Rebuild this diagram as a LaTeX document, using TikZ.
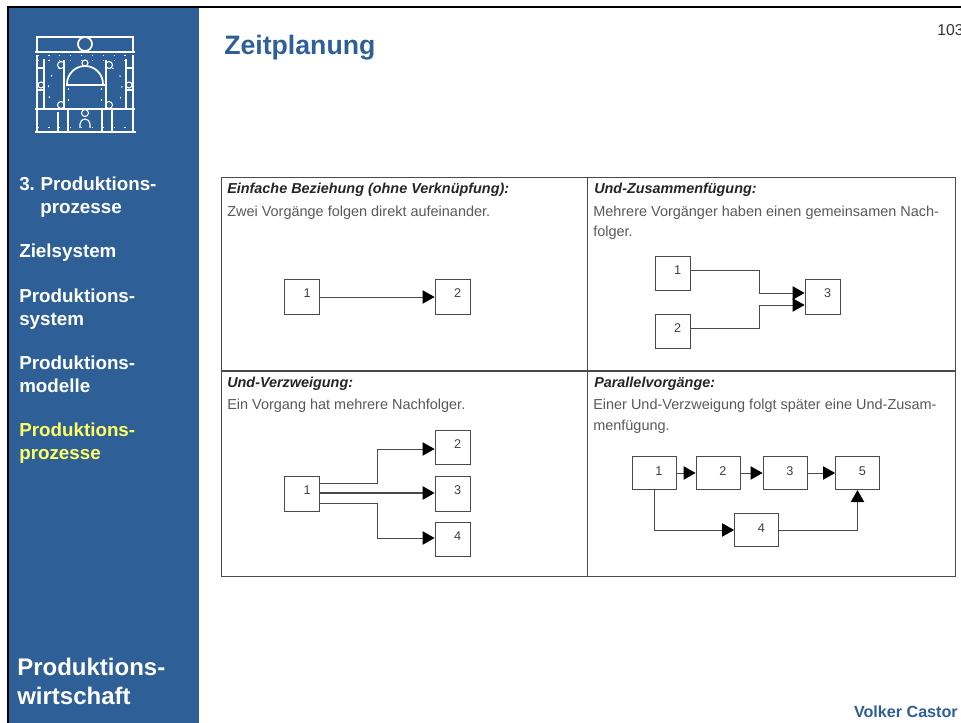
\documentclass[tikz,border=0pt]{standalone}
\usepackage{fontspec}
\setmainfont{Liberation Sans}
\usetikzlibrary{arrows.meta}
\definecolor{sideblue}{HTML}{2E6097}
\definecolor{headblue}{HTML}{2F5F97}
\definecolor{sideyellow}{HTML}{FFFF66}
\definecolor{linegray}{HTML}{4A4A4A}
\tikzset{
  x=0.75pt,y=-0.75pt,
  sidetext/.style={anchor=base west,inner sep=0pt,text=white,font=\fontsize{14.1}{16}\selectfont\bfseries},
  bigtext/.style={anchor=base west,inner sep=0pt,text=white,font=\fontsize{18}{20}\selectfont\bfseries},
  paneltitle/.style={anchor=base west,inner sep=0pt,text=black!85,font=\fontsize{10.8}{12}\selectfont\bfseries\itshape},
  paneltext/.style={anchor=base west,inner sep=0pt,text=black!65,font=\fontsize{10.85}{12}\selectfont},
  vbox/.style={draw=linegray,line width=0.6pt,fill=white,inner sep=0pt,minimum width=#1*0.75pt,minimum height=26pt},
  vbox/.default=35,
  numlab/.style={text=black!75,font=\fontsize{9.5}{11}\selectfont,inner sep=0pt,xshift=3.9pt,yshift=2.6pt},
  numlabw/.style={text=black!75,font=\fontsize{9.5}{11}\selectfont,inner sep=0pt,xshift=3.6pt,yshift=1.5pt},
  link/.style={draw=linegray,line width=0.7pt,-{Triangle[length=9pt,width=10pt,color=black]}},
  logo/.style={draw=white,line width=0.8pt},
  logothick/.style={draw=white,line width=1.3pt},
  logodot/.style={draw=white,line width=0.7pt,dash pattern=on 1.2pt off 7pt},
}
\begin{document}
\begin{tikzpicture}
\useasboundingbox (0,0) rectangle (961,723);
\fill[white] (0,0) rectangle (961,723);
% slide frame
\fill[sideblue] (9,8) rectangle (199,723);
\fill[black] (7,6) rectangle (961,8);
\fill[black] (7,6) rectangle (9,723);
% logo
\draw[logo] (37,37) rectangle (133,52);
\draw[logothick] (85,44) circle (7);
\draw[logothick] (35,52) -- (135,52);
\draw[logodot] (37,55) -- (133,55);
\draw[logo] (37,55) -- (37,109) (44,59) -- (44,109) (126,59) -- (126,109) (133,55) -- (133,109);
\draw[logodot] (37,60) -- (133,60);
\draw[logo] (37,68) -- (44,68) (37,90) -- (44,90) (126,68) -- (133,68) (126,90) -- (133,90);
\draw[logo] (41,85) circle (3) (129,85) circle (3);
\draw[logothick] (64,60) -- (64,109) (106,60) -- (106,109);
\draw[logo] (61,65) circle (3.5) (109,65) circle (3.5) (61,105) circle (3.5) (109,105) circle (3.5);
\draw[logo] (85,63) circle (3);
\draw[logothick] (67,84) arc[start angle=180,end angle=360,radius=18];
\draw[logothick] (66,85) -- (105,85);
\draw[logodot] (60,68) .. controls (50,72) and (46,85) .. (50,100);
\draw[logodot] (112,68) .. controls (122,72) and (124,85) .. (120,100);
\draw[logodot] (68,88) -- (68,109) (101,88) -- (101,109);
\draw[logothick] (35,109) -- (135,109);
\draw[logo] (37,109) -- (37,131) (58,112) -- (58,131) (68,109) -- (68,131) (102,109) -- (102,131) (112,109) -- (112,131) (133,109) -- (133,131);
\draw[logo] (85,113) circle (3.5);
\draw[logo] (80,128) -- (80,124) arc[start angle=180,end angle=360,radius=5] -- (90,128);
\draw[logothick] (35,132) -- (136,132);
\draw[logodot] (37,127) -- (133,127);
% side text
\node[sidetext] (s1) at (19,191) {3.\hspace{-1pt} Produktions-};
\node[sidetext] (s1b) at (40,214) {prozesse};
\node[sidetext] (s2) at (19,258) {Zielsystem};
\node[sidetext] (s3) at (19,303) {Produktions-};
\node[sidetext] (s3b) at (19,326) {system};
\node[sidetext] (s4) at (19,370) {Produktions-};
\node[sidetext] (s4b) at (19,393) {modelle};
\node[sidetext,text=sideyellow] (s5) at (19,437) {Produktions-};
\node[sidetext,text=sideyellow] (s5b) at (19,460) {prozesse};
\node[bigtext] (b1) at (17,675) {Produktions-};
\node[bigtext] (b2) at (17,704) {wirtschaft};
% header
\node[anchor=base west,inner sep=0pt,text=headblue,font=\fontsize{20}{24}\selectfont\bfseries] (title) at (224,55) {Zeitplanung};
\node[anchor=base west,inner sep=0pt,text=black!80,font=\fontsize{11.8}{13}\selectfont] (page) at (937,36) {103};
\node[anchor=base east,inner sep=0pt,text=headblue,font=\fontsize{12.1}{13}\selectfont\bfseries] (author) at (958,717) {Volker Castor};
% grid
\draw[linegray,line width=0.6pt] (221,177) rectangle (955,576);
\draw[linegray,line width=0.6pt] (587.5,177) -- (587.5,576);
\draw[linegray,line width=1pt] (221,371) -- (955,371);
% panel texts
\node[paneltitle] (t1) at (227,194) {Einfache Beziehung (ohne Verknüpfung):};
\node[paneltext] (t1a) at (227,216.5) {Zwei Vorgänge folgen direkt aufeinander.};
\node[paneltitle] (t2) at (594,194) {Und-Zusammenfügung:};
\node[paneltext] (t2a) at (593,216.5) {Mehrere Vorgänger haben einen gemeinsamen Nach-};
\node[paneltext] (t2b) at (593,236.5) {folger.};
\node[paneltitle] (t3) at (227,388) {Und-Verzweigung:};
\node[paneltext] (t3a) at (227,409.5) {Ein Vorgang hat mehrere Nachfolger.};
\node[paneltitle] (t4) at (594,388) {Parallelvorgänge:};
\node[paneltext] (t4a) at (593,409.5) {Einer Und-Verzweigung folgt später eine Und-Zusam-};
\node[paneltext] (t4b) at (593,430.5) {menfügung.};
% panel 1
\node[vbox,label={[numlab]center:1}] (a1) at (302,297) {};
\node[vbox,label={[numlab]center:2}] (a2) at (452.5,297) {};
\draw[link] (a1.east) -- (a2.west);
% panel 2
\node[vbox,label={[numlab]center:1}] (b1x) at (672.5,273.5) {};
\node[vbox,label={[numlab]center:2}] (b2x) at (672.5,331.5) {};
\node[vbox,label={[numlab]center:3}] (b3x) at (822.5,297) {};
\draw[link] (b1x.east |- 0,270) -| (759,293) -- (b3x.west |- 0,293);
\draw[link] (b2x.east |- 0,328) -| (759,305) -- (b3x.west |- 0,305);
% panel 3
\node[vbox,label={[numlab]center:1}] (c1) at (302,494) {};
\node[vbox,label={[numlab]center:2}] (c2) at (452.5,447.5) {};
\node[vbox,label={[numlab]center:3}] (c3) at (452.5,494) {};
\node[vbox,label={[numlab]center:4}] (c4) at (452.5,539.5) {};
\draw[link] (c1.east |- 0,483) -| (377,449) -- (c2.west |- 0,449);
\draw[link,line width=1.1pt] (c1.east |- 0,493) -- (c3.west |- 0,493);
\draw[link] (c1.east |- 0,503) -| (377,538) -- (c4.west |- 0,538);
% panel 4
\node[vbox=44,minimum height=25pt,label={[numlabw]center:1}] (d1) at (654,473) {};
\node[vbox=44,minimum height=25pt,label={[numlabw]center:2}] (d2) at (718,473) {};
\node[vbox=44,minimum height=25pt,label={[numlabw]center:3}] (d3) at (785,473) {};
\node[vbox=44,minimum height=25pt,label={[numlabw]center:5}] (d5) at (857.5,473) {};
\node[vbox=44,minimum height=25pt,label={[numlabw]center:4}] (d4) at (756.5,530) {};
\draw[link] (d1) -- (d2);
\draw[link] (d2) -- (d3);
\draw[link] (d3) -- (d5);
\draw[link] (d1.south) |- (d4.west);
\draw[link] (d4.east) -| (d5.south);
\end{tikzpicture}
\end{document}
